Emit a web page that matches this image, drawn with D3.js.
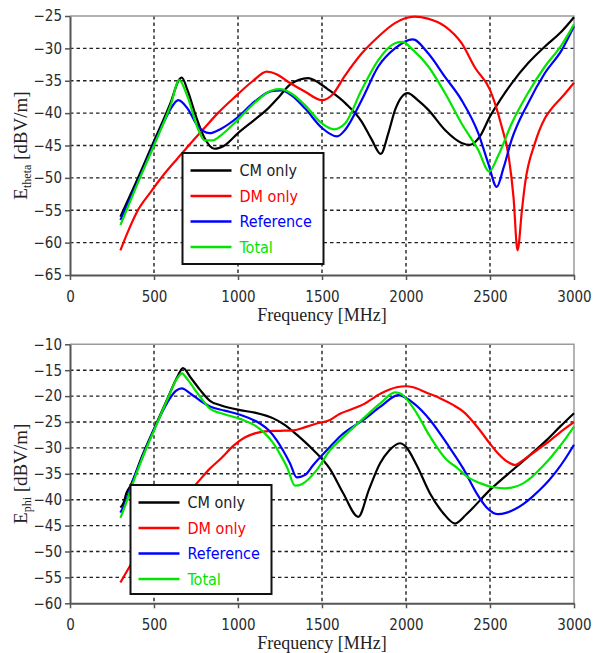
<!DOCTYPE html>
<html>
<head>
<meta charset="utf-8">
<script src="https://cdn.jsdelivr.net/npm/d3@7"></script>
<style>
  html, body { margin: 0; padding: 0; background: #fff; }
  svg { display: block; }
</style>
</head>
<body>
<svg id="chart" width="595" height="653"></svg>
<script>
// ---- data ----
const freqTicks = [0, 500, 1000, 1500, 2000, 2500, 3000];
const thetaTicks = [-65, -60, -55, -50, -45, -40, -35, -30, -25];
const phiTicks = [-60, -55, -50, -45, -40, -35, -30, -25, -20, -15, -10];
const seriesNames = ["CM only", "DM only", "Reference", "Total"];
const seriesColors = ["#000000", "#ff0000", "#0000ff", "#00e600"];

// E_theta [dBV/m] vs frequency [MHz]
const thetaCM = [[300,-56],[400,-50.3],[500,-44.3],[600,-38.3],[650,-34.8],[665,-34.5],[700,-36.5],[750,-40.5],[800,-43.8],[860,-45.5],[920,-45],[1000,-43.1],[1100,-41],[1170,-39.5],[1250,-37.3],[1310,-35.6],[1417,-34.6],[1480,-35.3],[1540,-36.4],[1640,-38.5],[1736,-41.3],[1796,-44.1],[1850,-46.3],[1895,-43.1],[1935,-39.5],[2010,-36.9],[2070,-38],[2133,-39.5],[2232,-42.6],[2331,-44.6],[2380,-44.9],[2440,-43.6],[2500,-40.5],[2560,-38],[2629,-35.4],[2726,-32.3],[2827,-29.7],[2926,-27.4],[3000,-25.2]];
const thetaDM = [[300,-61.2],[350,-58],[400,-55.2],[480,-52.2],[555,-49.6],[640,-47],[720,-44.6],[800,-42.3],[880,-40],[990,-37.3],[1090,-35],[1171,-33.6],[1230,-34],[1300,-35.2],[1400,-36.7],[1500,-38],[1560,-37.2],[1637,-34.2],[1736,-30.8],[1835,-28.2],[1934,-26.1],[2050,-25.1],[2130,-25.4],[2232,-26.6],[2331,-29.2],[2411,-33],[2500,-36.4],[2570,-42.1],[2610,-46.5],[2640,-53],[2664,-61.2],[2690,-55],[2708,-51],[2768,-44.6],[2827,-40.8],[2870,-39.2],[2926,-37.6],[3000,-35.3]];
const thetaRef = [[300,-56.5],[400,-50.8],[500,-44.8],[560,-41.3],[600,-39.3],[645,-38],[700,-39.3],[760,-42],[830,-43.1],[900,-42.4],[1000,-40.6],[1100,-38.2],[1200,-36.6],[1260,-36.5],[1320,-37.3],[1400,-39.3],[1500,-42.3],[1590,-43.6],[1637,-42.6],[1736,-38],[1835,-32.8],[1934,-30],[2040,-28.6],[2133,-30.8],[2232,-34.4],[2331,-38],[2430,-43.1],[2490,-47.8],[2540,-51.4],[2580,-48.5],[2629,-44.1],[2726,-38.5],[2827,-33.8],[2926,-30.3],[3000,-26.6]];
const thetaTot = [[300,-57.3],[400,-51],[500,-45],[600,-38.7],[650,-34.9],[700,-37.5],[760,-42.3],[800,-44.2],[850,-44.2],[900,-43.4],[1000,-41],[1100,-38.4],[1200,-36.5],[1250,-36.3],[1320,-37],[1400,-38.8],[1500,-41.6],[1570,-42.5],[1637,-41.6],[1736,-36.4],[1835,-31.8],[1934,-29.2],[1980,-29],[2040,-30.2],[2133,-32.8],[2232,-36.9],[2331,-41.6],[2430,-45.7],[2495,-49],[2550,-46.5],[2629,-41.6],[2726,-36.9],[2827,-32.8],[2926,-29.5],[3000,-26.3]];

// E_phi [dBV/m] vs frequency [MHz]
const phiCM = [[300,-41.5],[320,-40.5],[335,-38.8],[360,-37.3],[430,-31.5],[506,-25.9],[580,-20.5],[640,-16.2],[672,-14.6],[720,-16.5],[774,-18.8],[833,-20.9],[900,-21.8],[1012,-22.7],[1100,-23.2],[1210,-24.3],[1280,-25.6],[1330,-26.9],[1448,-30.4],[1548,-34.1],[1627,-38.8],[1716,-43.3],[1780,-38],[1845,-33],[1900,-30.5],[1964,-29.1],[2000,-29.8],[2063,-33.3],[2143,-38.8],[2222,-42.6],[2292,-44.6],[2360,-42.8],[2500,-38.1],[2659,-33.6],[2837,-28.5],[2920,-25.8],[3000,-23.3]];
const phiDM = [[300,-56],[357,-52.8],[450,-48],[550,-44],[650,-40.2],[744,-37.2],[833,-34],[900,-32],[972,-29.6],[1040,-28],[1100,-27.2],[1160,-26.8],[1250,-26.7],[1329,-26.6],[1400,-26],[1468,-25.3],[1548,-24.6],[1607,-23.4],[1680,-22.5],[1746,-21.6],[1850,-19.5],[1944,-18.3],[2000,-18.1],[2043,-18.3],[2120,-19.3],[2202,-20.4],[2280,-21.7],[2341,-23],[2400,-25],[2440,-26.6],[2500,-29.2],[2540,-30.8],[2600,-32.6],[2649,-33.3],[2700,-32.3],[2738,-31.4],[2837,-29.1],[2936,-26.5],[3000,-25]];
const phiRef = [[300,-42.5],[330,-40.5],[358,-37.8],[430,-31.8],[506,-26],[580,-21.2],[630,-19],[665,-18.5],[720,-19.6],[780,-21],[833,-22],[920,-22.8],[1012,-23.6],[1131,-25.3],[1180,-26.5],[1230,-28.5],[1270,-30.6],[1310,-33],[1350,-35.7],[1400,-35.2],[1448,-33.3],[1548,-29.8],[1607,-27.8],[1746,-24.6],[1850,-22],[1954,-19.8],[2050,-21.5],[2143,-24.6],[2242,-29.1],[2341,-34],[2421,-38.8],[2480,-41.5],[2545,-42.8],[2600,-42.5],[2650,-41.8],[2700,-40.8],[2750,-39.5],[2800,-38],[2850,-36.3],[2900,-34.3],[2950,-32],[3000,-29.4]];
const phiTot = [[300,-43.5],[330,-41],[358,-38.3],[430,-32],[506,-26.2],[580,-20.6],[640,-16.5],[665,-15.6],[700,-16.8],[760,-19.5],[833,-22.4],[920,-23.5],[1012,-24.4],[1111,-25.9],[1160,-27.2],[1210,-29.1],[1250,-31.2],[1290,-33.6],[1340,-37.3],[1380,-37],[1468,-34.3],[1548,-30.4],[1607,-28.5],[1746,-24.3],[1850,-21.3],[1934,-19.3],[1960,-19.4],[2050,-22.6],[2143,-27.8],[2242,-32.3],[2302,-33.8],[2370,-35.7],[2440,-36.8],[2520,-37.6],[2590,-37.8],[2650,-37.5],[2700,-36.8],[2750,-35.6],[2800,-34],[2850,-32.3],[2900,-30.3],[2950,-28.2],[3000,-25.9]];

// ---- layout ----
const panels = [
  { top: 16, bottom: 275, yDomain: [-65, -25], yTicks: thetaTicks, sub: "theta",
    series: [thetaCM, thetaDM, thetaRef, thetaTot], legend: { x: 182.5, y: 153, w: 141, h: 111 } },
  { top: 344.3, bottom: 603.3, yDomain: [-60, -10], yTicks: phiTicks, sub: "phi",
    series: [phiCM, phiDM, phiRef, phiTot], legend: { x: 130.5, y: 485, w: 141, h: 109 } }
];
const plotLeft = 70, plotRight = 574;
const sansFont = "'DejaVu Sans Condensed', 'DejaVu Sans', sans-serif";
const serifFont = "'Liberation Serif', 'DejaVu Serif', serif";

const svg = d3.select("#chart");

panels.forEach((p, pi) => {
  const x = d3.scaleLinear().domain([0, 3000]).range([plotLeft, plotRight]);
  const y = d3.scaleLinear().domain(p.yDomain).range([p.bottom, p.top]);
  const g = svg.append("g");

  // dotted grid
  const grid = g.append("g").attr("stroke", "#222").attr("stroke-width", 1.4)
    .attr("stroke-dasharray", "3.5,3");
  grid.selectAll("line.h").data(p.yTicks.filter(v => v > p.yDomain[0] && v < p.yDomain[1]))
    .join("line").attr("class", "h")
    .attr("x1", plotLeft).attr("x2", plotRight)
    .attr("y1", d => y(d)).attr("y2", d => y(d));
  grid.selectAll("line.v").data(freqTicks.filter(v => v > 0 && v < 3000))
    .join("line").attr("class", "v")
    .attr("y1", p.top).attr("y2", p.bottom)
    .attr("x1", d => x(d)).attr("x2", d => x(d));

  // frame (top/right)
  g.append("path")
    .attr("d", `M${plotLeft},${p.top}H${plotRight}V${p.bottom}`)
    .attr("fill", "none").attr("stroke", "#9a9a9a").attr("stroke-width", 1.5);

  // curves
  const clipId = "clip" + pi;
  svg.append("clipPath").attr("id", clipId).append("rect")
    .attr("x", plotLeft).attr("y", p.top - 2).attr("width", plotRight - plotLeft + 2)
    .attr("height", p.bottom - p.top + 2);
  const line = d3.line().x(d => x(d[0])).y(d => y(d[1])).curve(d3.curveMonotoneX);
  g.append("g").attr("clip-path", `url(#${clipId})`)
    .selectAll("path").data(p.series).join("path")
    .attr("d", line).attr("fill", "none")
    .attr("stroke", (d, i) => seriesColors[i]).attr("stroke-width", 2.2)
    .attr("stroke-linejoin", "round");

  // axes
  const yAxis = d3.axisLeft(y).tickValues(p.yTicks).tickSize(5).tickSizeOuter(0).tickPadding(3);
  const xAxis = d3.axisBottom(x).tickValues(freqTicks).tickSize(5).tickSizeOuter(0).tickPadding(11)
    .tickFormat(d3.format("d"));
  const ya = g.append("g").attr("transform", `translate(${plotLeft},0)`).call(yAxis);
  const xa = g.append("g").attr("transform", `translate(0,${p.bottom})`).call(xAxis);
  [ya, xa].forEach(a => {
    a.select(".domain").attr("stroke", "#555").attr("stroke-width", 2);
    a.selectAll(".tick line").attr("stroke", "#555").attr("stroke-width", 1.5);
    a.selectAll(".tick text").attr("fill", "#2a2a2a")
      .style("font-family", sansFont).style("font-size", "15px");
  });

  // axis titles
  g.append("text")
    .attr("x", (plotLeft + plotRight) / 2).attr("y", p.bottom + 46)
    .attr("text-anchor", "middle").attr("fill", "#222")
    .style("font-family", serifFont).style("font-size", "18px")
    .text("Frequency [MHz]");
  const yt = g.append("text")
    .attr("transform", `translate(27,${(p.top + p.bottom) / 2}) rotate(-90)`)
    .attr("text-anchor", "middle").attr("fill", "#222")
    .style("font-family", serifFont).style("font-size", "19px");
  yt.append("tspan").text("E");
  yt.append("tspan").attr("dy", 4).style("font-size", "12px").text(p.sub);
  yt.append("tspan").attr("dy", -4).text(" [dBV/m]");

  // legend
  const L = p.legend;
  const lg = g.append("g").attr("transform", `translate(${L.x},${L.y})`);
  lg.append("rect").attr("width", L.w).attr("height", L.h)
    .attr("fill", "#fff").attr("stroke", "#111").attr("stroke-width", 2);
  const rows = lg.selectAll("g.row").data(seriesNames).join("g").attr("class", "row")
    .attr("transform", (d, i) => `translate(0,${17.5 + i * 25.5})`);
  rows.append("line").attr("x1", 8).attr("x2", 49)
    .attr("stroke", (d, i) => seriesColors[i]).attr("stroke-width", 2.5);
  rows.append("text").attr("x", 57).attr("dy", "0.36em")
    .attr("fill", (d, i) => i === 0 ? "#222" : seriesColors[i])
    .style("font-family", sansFont).style("font-size", "16px")
    .text(d => d);
});
</script>
</body>
</html>
